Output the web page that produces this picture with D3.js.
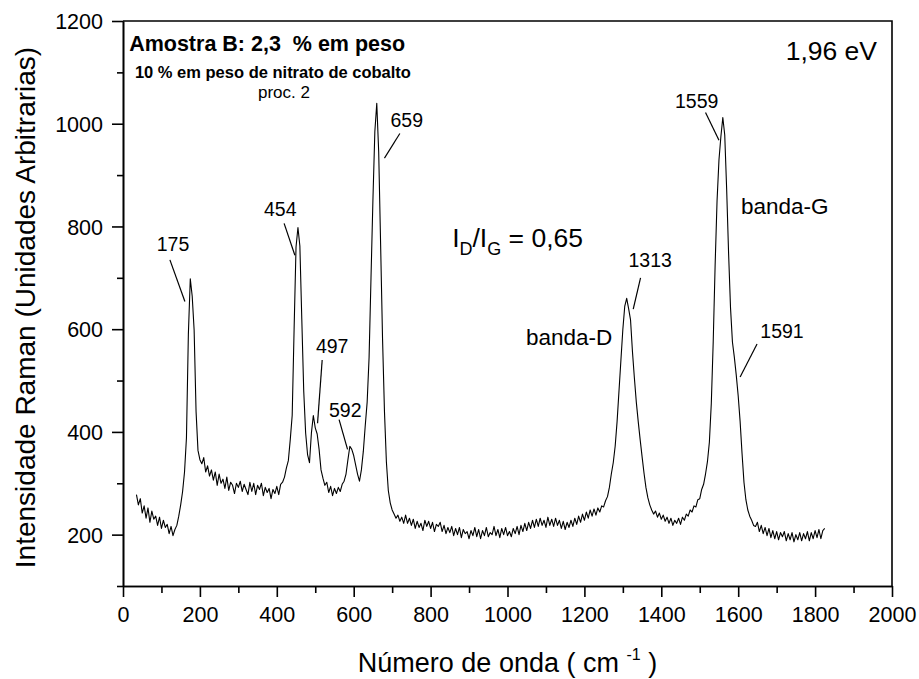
<!DOCTYPE html>
<html>
<head>
<meta charset="utf-8">
<script src="https://cdn.jsdelivr.net/npm/d3@7"></script>
<style>
  body { margin: 0; background: #fff; }
  svg { display: block; font-family: "Liberation Sans", Arial, Helvetica, sans-serif; }
</style>
</head>
<body>
<svg id="chart" width="919" height="679"></svg>
<script>
// Raman spectrum, sampled every 5 cm-1 starting at 35 cm-1
const wnStart = 35;
const wnStep = 5;
const intensity = [
  278, 258, 270, 242, 256, 232, 252, 224, 246, 230, 236, 218, 234, 212, 228, 214, 220, 202, 216, 198,
  210, 218, 236, 258, 284, 322, 388, 590, 698, 664, 598, 440, 364, 346, 338, 350, 322, 334, 314, 326,
  306, 322, 296, 318, 300, 308, 290, 312, 286, 302, 296, 280, 300, 292, 304, 284, 298, 288, 278, 302,
  284, 300, 278, 296, 288, 300, 276, 292, 282, 290, 270, 288, 280, 294, 278, 298, 302, 312, 330, 344,
  385, 432, 600, 760, 798, 762, 620, 480, 398, 356, 340, 398, 432, 408, 396, 366, 326, 310, 296, 302,
  282, 294, 276, 290, 280, 292, 284, 298, 304, 318, 346, 372, 366, 354, 336, 318, 304, 326, 362, 412,
  458, 545, 700, 852, 985, 1040, 945, 765, 582, 440, 342, 286, 262, 248, 240, 232, 238, 226, 234, 222,
  238, 222, 232, 218, 230, 212, 226, 214, 222, 208, 228, 216, 226, 212, 224, 206, 220, 216, 224, 206,
  218, 202, 214, 204, 216, 198, 212, 200, 214, 194, 210, 202, 206, 192, 208, 198, 214, 196, 210, 192,
  208, 198, 214, 196, 204, 200, 216, 198, 210, 194, 212, 200, 214, 198, 206, 196, 212, 202, 216, 200,
  218, 206, 222, 208, 224, 212, 228, 214, 230, 216, 232, 218, 228, 214, 234, 218, 230, 216, 232, 218,
  228, 212, 226, 210, 224, 214, 228, 216, 232, 220, 236, 224, 240, 228, 244, 232, 248, 236, 250, 238,
  252, 244, 256, 254, 266, 274, 292, 318, 340, 372, 420, 480, 540, 600, 645, 660, 640, 618, 556, 505,
  458, 420, 385, 352, 320, 292, 272, 258, 248, 240, 246, 234, 242, 230, 238, 226, 234, 222, 232, 218,
  228, 222, 232, 220, 234, 228, 240, 236, 248, 244, 256, 254, 268, 270, 288, 298, 318, 342, 380, 455,
  575, 725, 850, 930, 975, 1012, 978, 872, 748, 642, 575, 545, 510, 470, 420, 358, 302, 268, 248, 236,
  228, 218, 216, 224, 206, 218, 202, 214, 198, 212, 194, 208, 192, 206, 190, 204, 196, 206, 188, 202,
  190, 204, 186, 200, 190, 204, 188, 202, 192, 206, 188, 204, 192, 208, 194, 210, 192, 208, 212
];

const xMajorTicks = [0, 200, 400, 600, 800, 1000, 1200, 1400, 1600, 1800, 2000];
const xMinorTicks = [100, 300, 500, 700, 900, 1100, 1300, 1500, 1700, 1900];
const yMajorTicks = [200, 400, 600, 800, 1000, 1200];
const yMinorTicks = [100, 300, 500, 700, 900, 1100];

const peakLabels = ["175", "454", "497", "592", "659", "1313", "1559", "1591"];
const bandLabels = ["banda-D", "banda-G"];
const ratioValue = "0,65";
const excitation = "1,96 eV";
const sampleTitle = "Amostra B: 2,3  % em peso";
const sampleSub = "10 % em peso de nitrato de cobalto";
const sampleProc = "proc. 2";

const spectrum = intensity.map((v, i) => ({ wn: wnStart + i * wnStep, v }));

const svg = d3.select("#chart");
const x = d3.scaleLinear().domain([0, 2000]).range([123, 892]);
const y = d3.scaleLinear().domain([100, 1200]).range([586, 21]);

const AXW = 1.6;
const tickFont = 21.5;

// frame (top and right)
svg.append("path")
  .attr("d", `M${x(0)},${y(1200)}H${x(2000)}V${y(100)}`)
  .attr("fill", "none").attr("stroke", "#000").attr("stroke-width", AXW);

// bottom axis
const gx = svg.append("g").attr("transform", `translate(0,${y(100)})`);
gx.append("g").call(d3.axisBottom(x).tickValues(xMinorTicks).tickSize(7).tickSizeOuter(0).tickFormat(""));
gx.append("g").call(d3.axisBottom(x).tickValues(xMajorTicks).tickSize(11).tickSizeOuter(0).tickFormat(d3.format("d")));
gx.selectAll("text").attr("y", 36).attr("dy", 0).attr("font-size", tickFont).attr("font-family", null).attr("fill", "#000");

// left axis
const gy = svg.append("g").attr("transform", `translate(${x(0)},0)`);
gy.append("g").call(d3.axisLeft(y).tickValues(yMinorTicks).tickSize(6).tickSizeOuter(0).tickFormat(""));
gy.append("g").call(d3.axisLeft(y).tickValues(yMajorTicks).tickSize(11).tickSizeOuter(0).tickFormat(d3.format("d")));
gy.selectAll("text").attr("x", -20).attr("dy", "0.36em").attr("font-size", tickFont).attr("font-family", null).attr("fill", "#000");

svg.selectAll(".domain, .tick line").attr("stroke", "#000").attr("stroke-width", AXW);

// axis titles
svg.append("text")
  .attr("transform", `translate(35,${(y(100) + y(1200)) / 2 + 4}) rotate(-90)`)
  .attr("text-anchor", "middle").attr("font-size", 28)
  .text("Intensidade Raman (Unidades Arbitrarias)");

const xt = svg.append("text")
  .attr("x", (x(0) + x(2000)) / 2).attr("y", 672)
  .attr("text-anchor", "middle").attr("font-size", 27);
xt.append("tspan").text("Número de onda ( cm ");
xt.append("tspan").attr("font-size", 16).attr("dy", -12).text("-1");
xt.append("tspan").attr("dy", 12).text(" )");

// spectrum trace
const line = d3.line().x(d => x(d.wn)).y(d => y(d.v));
svg.append("path").datum(spectrum)
  .attr("d", line)
  .attr("fill", "none").attr("stroke", "#000").attr("stroke-width", 1.1)
  .attr("stroke-linejoin", "round");

// peak annotations (anchors in wavenumber / intensity units)
const peakLayout = [
  { at: [130, 752],  from: [122, 735],  to: [161, 654] },
  { at: [409, 821],  from: [419, 806],  to: [447, 744] },
  { at: [544, 554],  from: [518, 540],  to: [506, 417] },
  { at: [578, 430],  from: [562, 424],  to: [584, 366] },
  { at: [738, 993],  from: [720, 981],  to: [680, 933] },
  { at: [1371, 722], from: [1346, 700], to: [1327, 639] },
  { at: [1492, 1030], from: [1515, 1022], to: [1550, 968] },
  { at: [1714, 583], from: [1649, 571], to: [1605, 507] }
];
peakLabels.forEach((lab, i) => {
  const p = peakLayout[i];
  svg.append("text")
    .attr("x", x(p.at[0])).attr("y", y(p.at[1]))
    .attr("text-anchor", "middle").attr("font-size", 19.5)
    .text(lab);
  svg.append("line")
    .attr("x1", x(p.from[0])).attr("y1", y(p.from[1]))
    .attr("x2", x(p.to[0])).attr("y2", y(p.to[1]))
    .attr("stroke", "#000").attr("stroke-width", 1.2);
});

// band names
const bandLayout = [[1048, 569], [1607, 824]];
bandLabels.forEach((lab, i) => {
  svg.append("text")
    .attr("x", x(bandLayout[i][0])).attr("y", y(bandLayout[i][1]))
    .attr("font-size", 22.5).text(lab);
});

// intensity ratio
const rt = svg.append("text")
  .attr("x", x(856)).attr("y", y(760)).attr("font-size", 26.5);
rt.append("tspan").text("I");
rt.append("tspan").attr("font-size", 18).attr("dy", 8).text("D");
rt.append("tspan").attr("dy", -8).text("/I");
rt.append("tspan").attr("font-size", 18).attr("dy", 8).text("G");
rt.append("tspan").attr("dy", -8).text(" = " + ratioValue);

// excitation energy
svg.append("text")
  .attr("x", x(1961)).attr("y", y(1124))
  .attr("text-anchor", "end").attr("font-size", 26.5)
  .text(excitation);

// sample description
svg.append("text")
  .attr("x", x(16)).attr("y", y(1142))
  .attr("font-size", 21.5).attr("font-weight", "bold")
  .attr("xml:space", "preserve").style("white-space", "pre")
  .text(sampleTitle);
svg.append("text")
  .attr("x", x(31)).attr("y", y(1089))
  .attr("font-size", 16.5).attr("font-weight", "bold")
  .text(sampleSub);
svg.append("text")
  .attr("x", x(351)).attr("y", y(1050))
  .attr("font-size", 17)
  .text(sampleProc);
</script>
</body>
</html>
